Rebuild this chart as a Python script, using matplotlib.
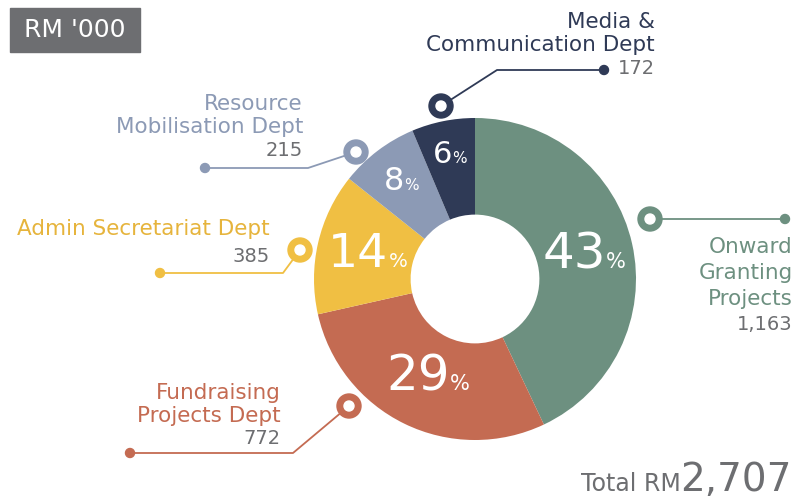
import matplotlib
matplotlib.use("Agg")
import matplotlib.pyplot as plt
import numpy as np
from matplotlib.patches import Circle, Rectangle
from matplotlib.offsetbox import TextArea, HPacker, AnnotationBbox

# data (RM '000)
departments = ["Onward\nGranting\nProjects", "Fundraising\nProjects Dept",
               "Admin Secretariat Dept", "Resource\nMobilisation Dept",
               "Media &\nCommunication Dept"]
amounts = [1163, 772, 385, 215, 172]
value_labels = ["1,163", "772", "385", "215", "172"]
pct_labels = ["43", "29", "14", "8", "6"]
total_label = "2,707"

colors = ["#6d9080", "#c46b52", "#f0bf43", "#8c9ab5", "#2f3a56"]
text_colors = ["#6d9080", "#c46b52", "#e6b43c", "#8c9ab5", "#2f3a56"]
gray = "#6d6e71"

# layout (pixels, y down)
cx, cy, R = 475, 279, 161
hole = 0.6
pct_radius = [112, 108, 110, 122, 127]
pct_size = [36, 36, 34, 23, 22]
# ring, elbow, dot, text anchor (right edge), line pitch
callouts = [
    dict(ring=(650, 219), elbow=(700, 219), dot=(785, 219), text=(793, 247), pitch=26),
    dict(ring=(349, 406), elbow=(293, 453), dot=(130, 453), text=(281, 393), pitch=23),
    dict(ring=(300, 250), elbow=(283, 273), dot=(160, 273), text=(270, 229), pitch=28),
    dict(ring=(356, 152), elbow=(308, 168), dot=(205, 168), text=(303, 104), pitch=23),
    dict(ring=(441, 106), elbow=(497, 70), dot=(604, 70), text=(655, 22), pitch=23),
]

plt.rcParams["font.family"] = ["DejaVu Sans"]
fig = plt.figure(figsize=(8.09, 4.99), dpi=100)
ax = fig.add_axes([0, 0, 1, 1])

wedges, _ = ax.pie(amounts, colors=colors, startangle=-90, counterclock=True,
                   center=(cx, cy), radius=R,
                   wedgeprops=dict(width=R * hole, linewidth=0))
ax.set_xlim(0, 809)
ax.set_ylim(499, 0)
ax.set_aspect("equal")
ax.axis("off")

# percentage labels inside the ring
for w, p, r, s in zip(wedges, pct_labels, pct_radius, pct_size):
    mid = np.deg2rad((w.theta1 + w.theta2) / 2)
    x = cx + r * np.cos(mid)
    y = cy + r * np.sin(mid)
    box = HPacker(children=[
        TextArea(p, textprops=dict(color="white", fontsize=s)),
        TextArea("%", textprops=dict(color="white", fontsize=max(s * 0.42, 11))),
    ], align="baseline", pad=0, sep=0)
    ax.add_artist(AnnotationBbox(box, (x, y), frameon=False, box_alignment=(0.5, 0.5)))

# callouts
for name, val, c, tc, co in zip(departments, value_labels, colors, text_colors, callouts):
    pts = [co["ring"], co["elbow"], co["dot"]]
    ax.plot([p[0] for p in pts], [p[1] for p in pts], color=c, lw=1.3, zorder=3)
    ax.add_patch(Circle(co["ring"], 12, color=c, zorder=4))
    ax.add_patch(Circle(co["ring"], 5, color="white", zorder=5))
    ax.add_patch(Circle(co["dot"], 4.5, color=c, zorder=4))
    tx, ty = co["text"]
    lines = name.split("\n")
    for i, line in enumerate(lines):
        ax.text(tx, ty + i * co["pitch"], line, color=tc, fontsize=15.5,
                ha="right", va="center")
    ax.text(tx, ty + len(lines) * co["pitch"], val, color=gray, fontsize=14,
            ha="right", va="center")

# unit badge
ax.add_patch(Rectangle((10, 8), 130, 44, color=gray, zorder=2))
ax.text(75, 30, "RM '000", color="white", fontsize=18, ha="center", va="center", zorder=3)

# total
total = HPacker(children=[
    TextArea("Total RM", textprops=dict(color=gray, fontsize=17)),
    TextArea(total_label, textprops=dict(color=gray, fontsize=28)),
], align="baseline", pad=0, sep=0)
ax.add_artist(AnnotationBbox(total, (792, 499), frameon=False, box_alignment=(1, 0),
                             annotation_clip=False))

fig.savefig("out.png", dpi=100)
